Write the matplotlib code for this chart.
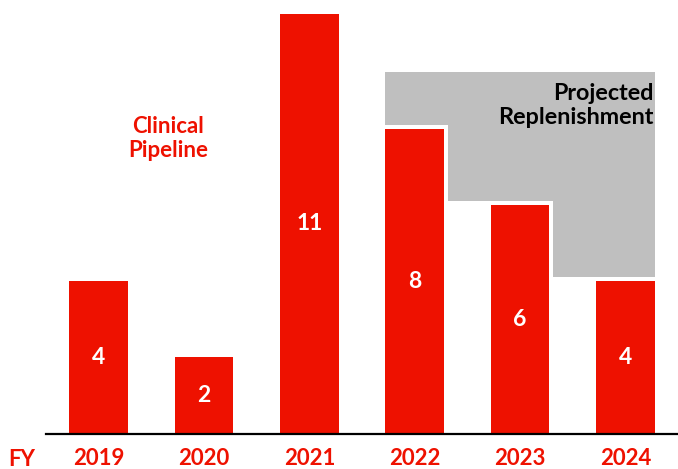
import matplotlib
matplotlib.use("Agg")
import matplotlib.pyplot as plt
import numpy as np

years = ["2019", "2020", "2021", "2022", "2023", "2024"]
values = [4, 2, 11, 8, 6, 4]
projected_years = ["2022", "2023", "2024"]
projected_top = 9.5

RED = "#EE1100"
GREY = "#BFBFBF"
FONT = "Lato"

fig = plt.figure(figsize=(6.78, 4.69), dpi=100)
ax = fig.add_axes([46/678, (469-433.5)/469, 1-46/678, 433.5/469])
ax.set_xlim(-0.5, 5.5)
ax.set_ylim(0, 433.5/38.1)

x = np.arange(len(years))
width = 0.56

# grey projected region (step shape)
gap_y = 4/38.1
gap_x = 4/105.3
idx = [years.index(y) for y in projected_years]
poly_x = [x[idx[0]] - width/2, x[idx[-1]] + width/2]
poly_y = [projected_top, projected_top]
for k in reversed(range(len(idx))):
    i = idx[k]
    right = x[i] + width/2 + (0 if k == len(idx)-1 else gap_x)
    left = (x[i] - width/2) if k == 0 else (x[idx[k-1]] + width/2 + gap_x)
    poly_x += [right, left]
    poly_y += [values[i] + gap_y, values[i] + gap_y]
ax.fill(poly_x, poly_y, color=GREY, lw=0, zorder=1)

ax.bar(x, values, width=width, color=RED, zorder=2, linewidth=0)

for xi, v in zip(x, values):
    ax.text(xi, v/2, str(v), ha="center", va="center", color="white",
            fontsize=16.5, fontweight="bold", family=FONT, zorder=3)

for s in ["top", "right", "left"]:
    ax.spines[s].set_visible(False)
ax.spines["bottom"].set_color("black")
ax.spines["bottom"].set_linewidth(1.6)
ax.set_yticks([])
ax.set_xticks(x)
ax.set_xticklabels(years, color=RED, fontsize=16, fontweight="bold", family=FONT)
ax.tick_params(axis="x", length=0, pad=10.5)

fig.text(22/678, 1 - 459/469, "FY", ha="center", va="center", color=RED,
         fontsize=16, fontweight="bold", family=FONT)

for line, yb in [("Clinical", 132.7), ("Pipeline", 156.7)]:
    fig.text(168.3/678, 1 - yb/469, line, ha="center", va="baseline",
             color=RED, fontsize=16, fontweight="bold", family=FONT)
for line, yb in [("Projected", 100.0), ("Replenishment", 124.3)]:
    fig.text(653.3/678, 1 - yb/469, line, ha="right", va="baseline",
             color="black", fontsize=16.8, fontweight="bold", family=FONT)

fig.savefig("out.png", dpi=100)
